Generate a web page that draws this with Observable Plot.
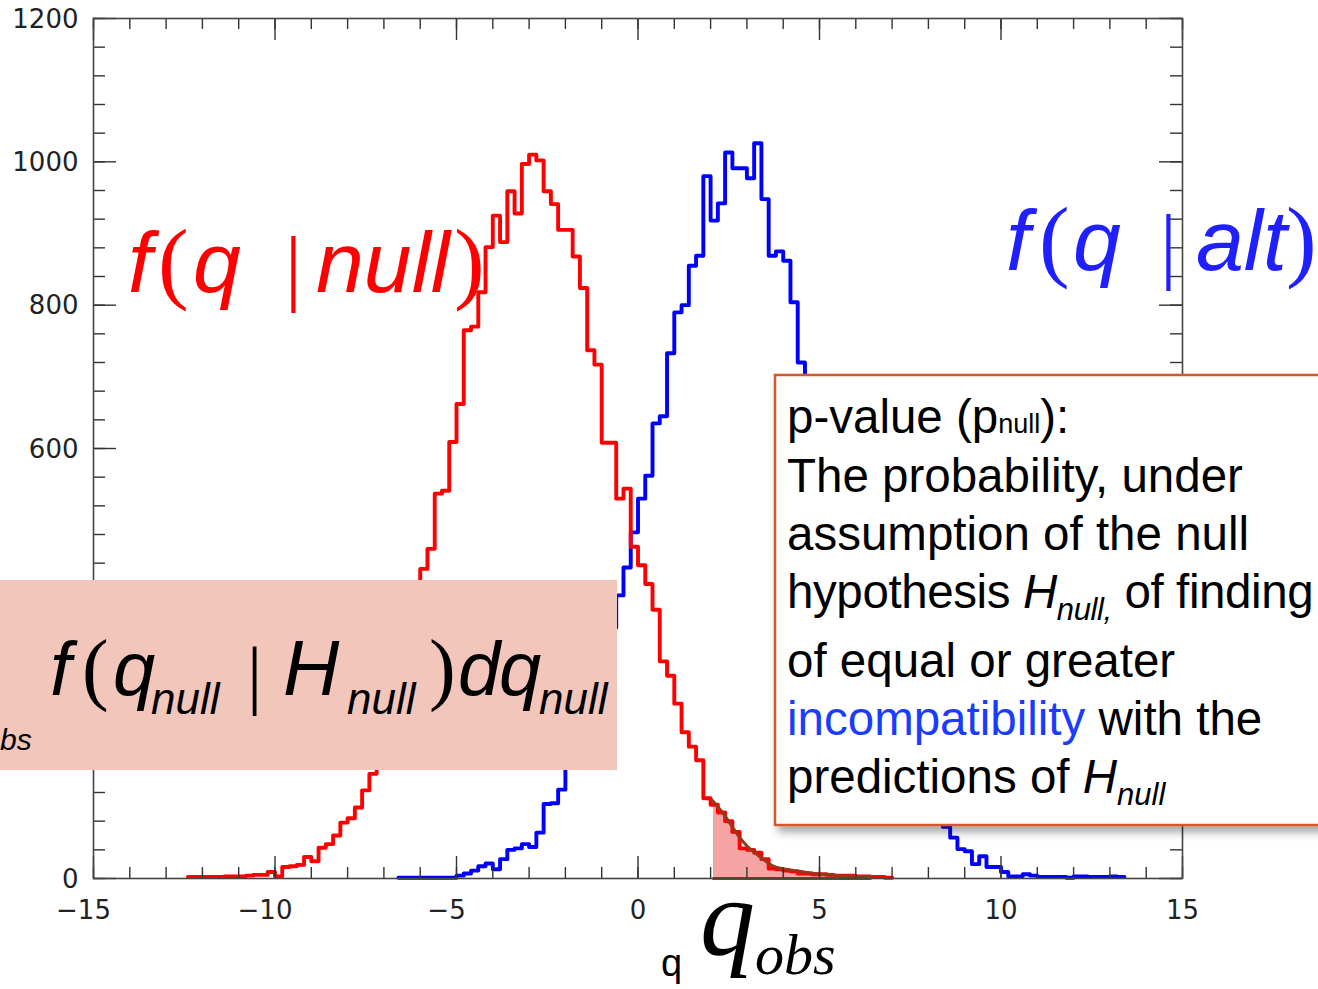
<!DOCTYPE html>
<html>
<head>
<meta charset="utf-8">
<script src="https://cdn.jsdelivr.net/npm/d3@7"></script>
<script src="https://cdn.jsdelivr.net/npm/@observablehq/plot@0.6"></script>
<style>
  html, body { margin: 0; padding: 0; background: #fff; overflow: hidden; }
  #root { position: relative; width: 1318px; height: 989px; overflow: hidden; background: #fff; }
  #root svg { position: absolute; left: 0; top: 0; }
</style>
</head>
<body>
<div id="root"></div>
<script>
// ---------------- data ----------------
const binWidth = 0.2;
const redStart = -12.4;   // left edge of first f(q|null) bin
const redCounts = [2,2,2,2,2,3,3,3,4,5,5,9,3,16,17,19,30,24,43,48,60,78,84,99,123,146,
  175,205,245,290,340,405,432,460,537,541,609,662,765,770,818,881,925,888,959,928,997,
  1010,1002,959,941,905,905,868,824,737,717,608,608,530,544,463,437,411,375,303,283,244,
  204,184,165,112,103,92,80,65,42,40,36,27,14,13,11,10,7,7,6,6,5,4,4,4,3,3,2,2,1];
const blueStart = -6.6;   // left edge of first f(q|alt) bin
const blueCounts = [1,1,1,1,1,1,1,1,4,7,11,17,21,13,27,40,42,48,44,64,104,105,124,
  165,190,220,255,290,320,350,395,434,483,530,562,635,645,733,790,800,855,869,980,918,
  942,1013,991,991,977,1026,948,869,875,862,804,720,680,620,575,520,465,420,380,340,300,
  265,235,205,180,155,135,118,103,92,83,72,57,41,38,20,31,16,16,9,3,3,6,4,2,2,2,2,1,3,3,
  2,2,2,3,2];
const qObs = 2.08;
const tailCurveQ = [2.05, 2.36, 2.69, 3.01, 3.37, 3.74, 4.2, 4.84, 5.58, 6.4];
const tailCurveV = [109, 90, 65, 45, 30, 17, 12, 7, 4, 2];
const xMajor = [-15, -10, -5, 0, 5, 10, 15];
const xMinor = d3.range(-15, 16, 1);
const yMajor = [0, 200, 400, 600, 800, 1000, 1200];
const yMinor = d3.range(0, 1201, 40);
const xLabels = ["\u221215", "\u221210", "\u22125", "0", "5", "10", "15"];
const yLabels = ["0", "200", "400", "600", "800", "1000", "1200"];

// ---------------- derived tables ----------------
function steps(start, counts) {
  const pts = counts.map((c, i) => ({x: start + i * binWidth, y: c}));
  pts.push({x: start + counts.length * binWidth, y: counts[counts.length - 1]});
  return pts;
}
const redSteps = steps(redStart, redCounts);
const blueSteps = steps(blueStart, blueCounts);
const shade = [];
redCounts.forEach((c, i) => {
  const x0 = redStart + i * binWidth, x1 = x0 + binWidth;
  if (x1 > qObs) shade.push({x: Math.max(x0, qObs), y: c});
});
shade.push({x: redStart + redCounts.length * binWidth, y: redCounts[redCounts.length - 1]});
const tailCurve = tailCurveQ.map((q, i) => ({x: q, y: tailCurveV[i]}));
const tailBase = [{x: qObs, y: 0}, {x: tailCurveQ[tailCurveQ.length - 1], y: 0}];

const yMajLen = 30.7, yMinLen = 15.3;   // tick lengths in y units (bottom/top)
const xMajLen = 0.634, xMinLen = 0.33;  // tick lengths in x units (left/right)
const tickCol = "#333";

const plot = Plot.plot({
  width: 1318, height: 989,
  marginLeft: 93, marginRight: 136, marginTop: 18, marginBottom: 111,
  x: {domain: [-15, 15], axis: null},
  y: {domain: [0, 1200], axis: null},
  style: {background: "transparent", fontFamily: "DejaVu Sans"},
  marks: [
    Plot.areaY(shade, {x: "x", y: "y", curve: "step-after", fill: "#f6a3a3"}),
    Plot.line(tailBase, {x: "x", y: "y", stroke: "#9a3a1a", strokeWidth: 3}),
    Plot.line(blueSteps, {x: "x", y: "y", curve: "step-after", stroke: "#0000ff", strokeWidth: 3.9}),
    Plot.line(redSteps, {x: "x", y: "y", curve: "step-after", stroke: "#ff0000", strokeWidth: 3.9}),
    Plot.line(tailCurve, {x: "x", y: "y", curve: "natural", stroke: "#96381a", strokeWidth: 3}),
    // ticks (inward, ROOT style)
    Plot.ruleX(xMinor, {x: d => d, y1: 0, y2: yMinLen, stroke: tickCol, strokeWidth: 1.4}),
    Plot.ruleX(xMajor, {x: d => d, y1: 0, y2: yMajLen, stroke: tickCol, strokeWidth: 1.4}),
    Plot.ruleX(xMinor, {x: d => d, y1: 1200, y2: 1200 - yMinLen, stroke: tickCol, strokeWidth: 1.4}),
    Plot.ruleX(xMajor, {x: d => d, y1: 1200, y2: 1200 - yMajLen, stroke: tickCol, strokeWidth: 1.4}),
    Plot.ruleY(yMinor, {y: d => d, x1: -15, x2: -15 + xMinLen, stroke: tickCol, strokeWidth: 1.4}),
    Plot.ruleY(yMajor, {y: d => d, x1: -15, x2: -15 + xMajLen, stroke: tickCol, strokeWidth: 1.4}),
    Plot.ruleY(yMinor, {y: d => d, x1: 15, x2: 15 - xMinLen, stroke: tickCol, strokeWidth: 1.4}),
    Plot.ruleY(yMajor, {y: d => d, x1: 15, x2: 15 - xMajLen, stroke: tickCol, strokeWidth: 1.4}),
    Plot.frame({stroke: "#444", strokeWidth: 1.6}),
    // tick labels
    Plot.text(xMajor.filter(d => d < 0), {x: d => d, y: 0, text: d => xLabels[xMajor.indexOf(d)],
      dy: 32, dx: -10, fontSize: 26, fill: "#222"}),
    Plot.text(xMajor.filter(d => d >= 0), {x: d => d, y: 0, text: d => xLabels[xMajor.indexOf(d)],
      dy: 32, fontSize: 26, fill: "#222"}),
    Plot.text(yMajor, {x: -15, y: d => d, text: d => yLabels[yMajor.indexOf(d)],
      dx: -15, dy: 1, textAnchor: "end", fontSize: 26, fill: "#222"})
  ]
});
const root = document.getElementById("root");
root.appendChild(plot);

// ---------------- annotations overlay ----------------
const xs = plot.scale("x");
const xq = xs.apply(qObs);
const svg = d3.select(root).append("svg")
  .attr("width", 1318).attr("height", 989)
  .style("overflow", "visible");
const defs = svg.append("defs");
const f = defs.append("filter").attr("id", "shadow").attr("x", "-10%").attr("y", "-10%")
  .attr("width", "130%").attr("height", "130%");
f.append("feDropShadow").attr("dx", 4).attr("dy", 6).attr("stdDeviation", 4)
  .attr("flood-color", "#000").attr("flood-opacity", 0.35);
const f2 = defs.append("filter").attr("id", "lshadow");
f2.append("feDropShadow").attr("dx", 3).attr("dy", 0).attr("stdDeviation", 2)
  .attr("flood-color", "#000").attr("flood-opacity", 0.25);

const SANS = "'Liberation Sans', Arial, sans-serif";
const SERIF = "'Liberation Serif', 'Times New Roman', serif";
function put(g, str, x, y, size, opts = {}) {
  return g.append("text").attr("x", x).attr("y", y)
    .attr("font-family", opts.serif ? SERIF : SANS)
    .attr("font-size", size)
    .attr("font-style", opts.italic ? "italic" : "normal")
    .attr("fill", opts.fill || "#000")
    .text(str);
}

// f(q | null) in red
const gr = svg.append("g");
const RED = "#ff0000";
put(gr, "f", 128, 292, 86, {italic: true, fill: RED});
put(gr, "(", 158, 292, 92, {serif: true, fill: RED});
put(gr, "q", 193, 292, 86, {italic: true, fill: RED});
put(gr, "|", 285, 295, 84, {serif: true, fill: RED});
put(gr, "null", 316, 292, 86, {italic: true, fill: RED});
put(gr, ")", 454, 292, 92, {serif: true, fill: RED});

// f(q | alt) in blue
const gb = svg.append("g");
const BLUE = "#2020ff";
put(gb, "f", 1006, 270, 86, {italic: true, fill: BLUE});
put(gb, "(", 1039, 270, 92, {serif: true, fill: BLUE});
put(gb, "q", 1073, 270, 86, {italic: true, fill: BLUE});
put(gb, "|", 1160, 273, 84, {serif: true, fill: BLUE});
put(gb, "alt", 1196, 270, 86, {italic: true, fill: BLUE});
put(gb, ")", 1286, 270, 92, {serif: true, fill: BLUE});

// pink box with integrand
const gp = svg.append("g");
gp.append("rect").attr("x", 0).attr("y", 580).attr("width", 617).attr("height", 190).attr("fill", "#f2c6bb");
put(gp, "bs", 0, 750, 30, {italic: true});
put(gp, "f", 50, 695, 76, {italic: true});
put(gp, "(", 82, 695, 80, {serif: true});
put(gp, "q", 113, 695, 76, {italic: true});
put(gp, "null", 151, 714, 44, {italic: true});
put(gp, "|", 247, 700, 76, {serif: true});
put(gp, "H", 283, 695, 78, {italic: true});
put(gp, "null", 347, 714, 44, {italic: true});
put(gp, ")", 429, 695, 80, {serif: true});
put(gp, "d", 458, 695, 76, {italic: true});
put(gp, "q", 499, 695, 76, {italic: true});
put(gp, "null", 539, 714, 44, {italic: true});

// p-value explanation box
const gt = svg.append("g");
gt.append("rect").attr("x", 775).attr("y", 375).attr("width", 620).attr("height", 450)
  .attr("fill", "#fff").attr("stroke", "#d4582b").attr("stroke-width", 2.5)
  .attr("filter", "url(#shadow)");
const TX = 787, FS = 47.5;
let t = put(gt, "p-value (p", TX, 433, FS);
t.append("tspan").attr("font-size", 27).text("null");
t.append("tspan").text("):");
put(gt, "The probability, under", TX, 492, FS);
put(gt, "assumption of the null", TX, 550, FS);
t = put(gt, "hypothesis ", TX, 608, FS).attr("letter-spacing", -0.4);
t.append("tspan").attr("font-style", "italic").text("H");
t.append("tspan").attr("font-style", "italic").attr("font-size", 31).attr("dy", 12).text("null,");
t.append("tspan").attr("dy", -12).text(" of finding");
put(gt, "of equal or greater", TX, 677, FS);
t = put(gt, "", TX, 735, FS);
t.append("tspan").attr("fill", "#1a3cff").text("incompatibility");
t.append("tspan").text(" with the");
t = put(gt, "predictions of ", TX, 793, FS);
t.append("tspan").attr("font-style", "italic").text("H");
t.append("tspan").attr("font-style", "italic").attr("font-size", 31).attr("dy", 12).text("null");

// q_obs line and labels
svg.append("line").attr("x1", xq).attr("x2", xq).attr("y1", 0).attr("y2", 989)
  .attr("stroke", "#c9552b").attr("stroke-width", 2.5).attr("filter", "url(#lshadow)");
put(svg, "q", 661, 976, 38);
put(svg, "q", 700, 955, 110, {serif: true, italic: true});
put(svg, "obs", 755, 974, 58, {serif: true, italic: true});
</script>
</body>
</html>
